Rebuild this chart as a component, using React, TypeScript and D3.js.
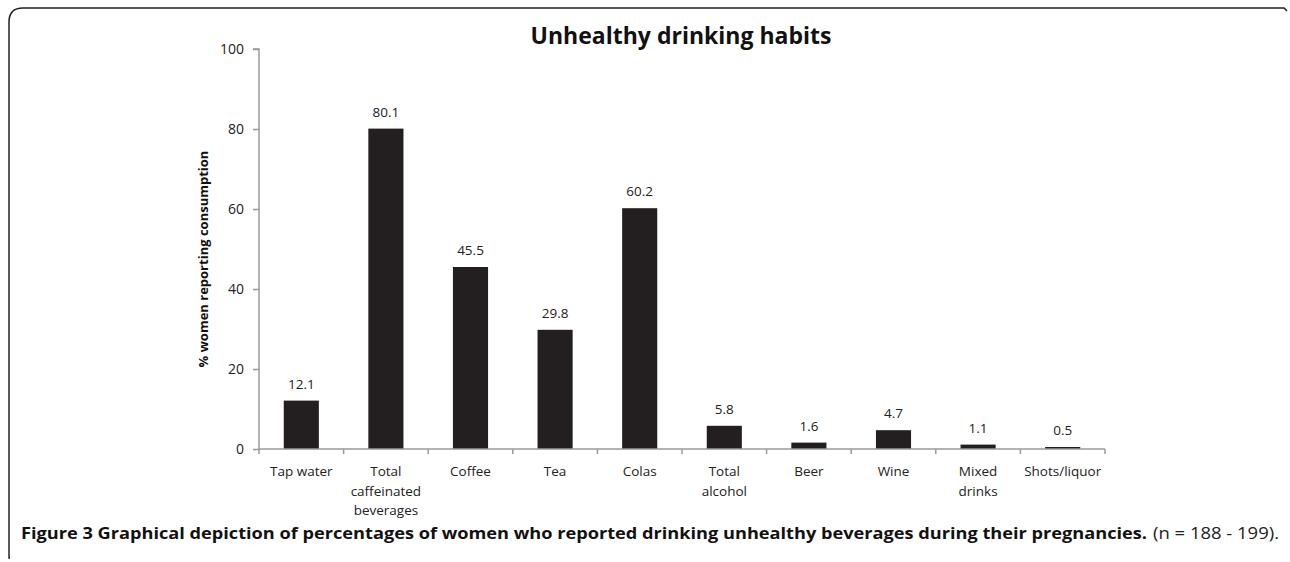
import React, { useEffect, useRef } from "react";
import * as d3 from "d3";

const categories = [
  "Tap water",
  "Total caffeinated beverages",
  "Coffee",
  "Tea",
  "Colas",
  "Total alcohol",
  "Beer",
  "Wine",
  "Mixed drinks",
  "Shots/liquor",
];
const categoryLines = [
  ["Tap water"],
  ["Total", "caffeinated", "beverages"],
  ["Coffee"],
  ["Tea"],
  ["Colas"],
  ["Total", "alcohol"],
  ["Beer"],
  ["Wine"],
  ["Mixed", "drinks"],
  ["Shots/liquor"],
];
const values = [12.1, 80.1, 45.5, 29.8, 60.2, 5.8, 1.6, 4.7, 1.1, 0.5];
const yTicks = [0, 20, 40, 60, 80, 100];

const W = 1290;
const H = 562;
const FONT = "'Open Sans', 'Noto Sans', sans-serif";

const App = () => {
  const ref = useRef<SVGSVGElement>(null);

  useEffect(() => {
    const svg = d3.select(ref.current);
    svg.selectAll("*").remove();

    const left = 259;
    const right = 1105;
    const top = 49;
    const bottom = 449;

    // frame: open bracket shape (top + left edges)
    svg.append("path")
      .attr("d", `M 10,558 L 9,558 L 9,22 Q 9,8 23,8 L 1284,8 L 1287,11`)
      .attr("fill", "none")
      .attr("stroke", "#222")
      .attr("stroke-width", 1.5);

    const x = d3.scaleBand()
      .domain(categories)
      .range([left, right])
      .paddingInner(0.585)
      .paddingOuter(0.2925);

    const y = d3.scaleLinear().domain([0, 100]).range([bottom, top]);

    const g = svg.append("g");

    // y axis
    const yAxis = g.append("g")
      .attr("transform", `translate(${left},0)`)
      .call(d3.axisLeft(y).tickValues(yTicks).tickSize(6).tickPadding(9));
    yAxis.select(".domain").attr("stroke", "#9a9a9a").attr("stroke-width", 1.5)
      .attr("d", `M-6,${top}H0V${bottom}`);
    yAxis.selectAll(".tick line").attr("stroke", "#9a9a9a").attr("stroke-width", 1.5);
    yAxis.selectAll(".tick text")
      .attr("font-family", FONT)
      .attr("font-size", 14)
      .attr("fill", "#222");

    // bars
    g.selectAll(".bar")
      .data(values)
      .enter()
      .append("rect")
      .attr("class", "bar")
      .attr("x", (d, i) => x(categories[i]) || 0)
      .attr("width", x.bandwidth())
      .attr("y", (d) => y(d))
      .attr("height", (d) => bottom - y(d))
      .attr("fill", "#231f20");

    // value labels
    g.selectAll(".val")
      .data(values)
      .enter()
      .append("text")
      .attr("x", (d, i) => (x(categories[i]) || 0) + x.bandwidth() / 2)
      .attr("y", (d) => y(d) - 12)
      .attr("text-anchor", "middle")
      .attr("font-family", FONT)
      .attr("font-size", 13.5)
      .attr("fill", "#222")
      .text((d) => d.toFixed(1));

    // x axis line and ticks at band boundaries
    const step = x.step();
    const bounds = d3.range(categories.length + 1).map((i) => left + i * step);
    g.append("line")
      .attr("x1", left).attr("x2", right)
      .attr("y1", bottom).attr("y2", bottom)
      .attr("stroke", "#9a9a9a").attr("stroke-width", 1.5);
    g.selectAll(".xtick")
      .data(bounds)
      .enter()
      .append("line")
      .attr("x1", (d) => d).attr("x2", (d) => d)
      .attr("y1", bottom).attr("y2", bottom + 5)
      .attr("stroke", "#9a9a9a").attr("stroke-width", 1.5);

    // category labels
    categoryLines.forEach((lines, i) => {
      const cx = (x(categories[i]) || 0) + x.bandwidth() / 2;
      const t = g.append("text")
        .attr("text-anchor", "middle")
        .attr("font-family", FONT)
        .attr("font-size", 13.5)
        .attr("fill", "#222");
      lines.forEach((ln, j) => {
        t.append("tspan").attr("x", cx).attr("y", 476 + j * 19.5).text(ln);
      });
    });

    // y title
    g.append("text")
      .attr("transform", `translate(208,${(top + bottom) / 2 + 10}) rotate(-90)`)
      .attr("text-anchor", "middle")
      .attr("font-family", FONT)
      .attr("font-size", 13)
      .attr("font-weight", "bold")
      .attr("fill", "#111")
      .text("% women reporting consumption");

    // chart title
    g.append("text")
      .attr("x", 681)
      .attr("y", 44)
      .attr("text-anchor", "middle")
      .attr("font-family", FONT)
      .attr("font-size", 23)
      .attr("font-weight", "bold")
      .attr("fill", "#111")
      .text("Unhealthy drinking habits");

    // caption
    g.append("text")
      .attr("x", 21)
      .attr("y", 539)
      .attr("font-family", FONT)
      .attr("font-size", 16)
      .attr("font-weight", "bold")
      .attr("fill", "#111")
      .attr("textLength", 1126)
      .attr("lengthAdjust", "spacingAndGlyphs")
      .text("Figure 3 Graphical depiction of percentages of women who reported drinking unhealthy beverages during their pregnancies.");
    g.append("text")
      .attr("x", 1153)
      .attr("y", 539)
      .attr("font-family", FONT)
      .attr("font-size", 16)
      .attr("fill", "#222")
      .attr("textLength", 126)
      .attr("lengthAdjust", "spacingAndGlyphs")
      .text("(n = 188 - 199).");
  }, []);

  return (
    <svg
      ref={ref}
      width={W}
      height={H}
      style={{ position: "absolute", left: 0, top: 0, background: "#fff" }}
    />
  );
};

export default App;
